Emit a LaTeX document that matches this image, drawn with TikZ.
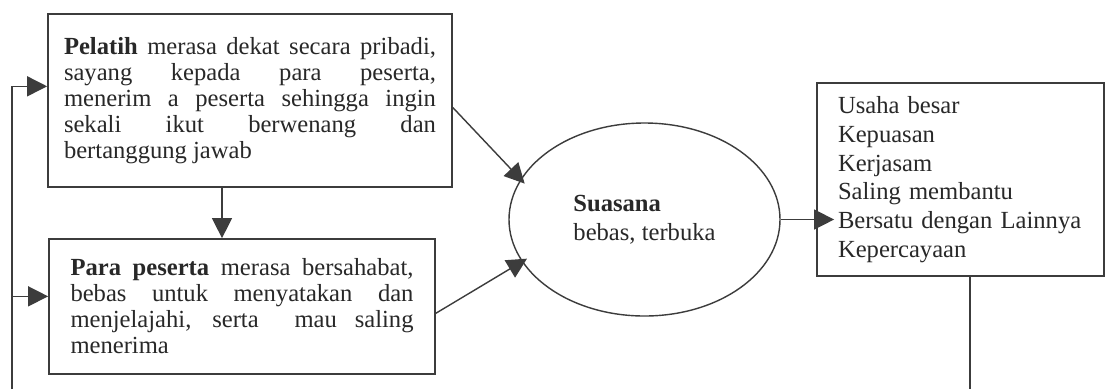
\documentclass[tikz,border=0pt]{standalone}
\usepackage{fontspec}
\setmainfont{Liberation Serif}
\usepackage{xcolor}
\usetikzlibrary{arrows.meta,shapes.geometric}

\definecolor{garis}{RGB}{60,60,60}
\definecolor{teks}{RGB}{40,40,40}

\begin{document}
\begin{tikzpicture}
    % Define styles
    \tikzset{
        box/.style={rectangle, draw=garis, line width=1pt, fill=white, inner ysep=0pt, text=teks, font=\fontsize{14}{14.8}\selectfont},
        oval/.style={ellipse, draw=garis, line width=0.8pt, inner sep=0pt, text=teks, font=\fontsize{14}{16.5}\selectfont},
        arrow/.style={-{Triangle[length=0.4cm,width=0.4cm]}, draw=garis, line width=0.8pt},
        line/.style={draw=garis, line width=0.8pt}
    }

    % Canvas
    \fill[white] (0,0) rectangle (22.12,-7.78);
    \useasboundingbox (0,0) rectangle (22.12,-7.78);

    % Nodes
    \node[box, text width=7.44cm, inner xsep=0.32cm, minimum height=3.46cm, align=justify] (pelatih_box) at (5.0,-2.01)
        {\textbf{Pelatih} merasa dekat secara pribadi,\linebreak sayang kepada para peserta,\linebreak menerim a peserta sehingga ingin\linebreak sekali ikut berwenang dan\linebreak bertanggung jawab};
    \node[box, text width=6.86cm, inner xsep=0.43cm, minimum height=2.70cm, align=justify] (peserta_box) at (4.84,-6.13)
        {\textbf{Para peserta} merasa bersahabat,\linebreak bebas untuk menyatakan dan\linebreak menjelajahi, serta \ mau saling\linebreak menerima};
    \node[oval, minimum width=5.42cm, minimum height=3.86cm, align=left] (suasana_node) at (12.89,-4.39)
        {\textbf{Suasana}\\bebas, terbuka};
    \node[box, text width=4.9cm, inner xsep=0.42cm, minimum height=3.86cm, align=left, font=\fontsize{14}{16.3}\selectfont] (hasil_box) at (19.21,-3.59)
        {Usaha besar\\Kepuasan\\Kerjasam\\Saling membantu\\Bersatu dengan Lainnya\\Kepercayaan};
    \coordinate (kiri_bawah) at (0.24,-7.78);
    \coordinate (kanan_bawah) at (19.40,-7.78);

    % Arrows
    \draw[arrow] ([xshift=-0.56cm]pelatih_box.south) -- ([xshift=-0.56cm]pelatih_box.south |- peserta_box.north);
    \draw[arrow, shorten >=-0.12cm] (pelatih_box.-2.7) -- (suasana_node.162);
    \draw[arrow, shorten >=-0.12cm] (peserta_box.-2.5) -- (suasana_node.199);
    \draw[arrow, shorten >=-0.36cm] (suasana_node.east) -- (suasana_node.east -| hasil_box.west);
    \draw[arrow] (kiri_bawah) |- (pelatih_box.176);
    \draw[arrow] (kiri_bawah |- peserta_box.177) -- (peserta_box.177);
    \draw[line] (hasil_box.south -| kanan_bawah) -- (kanan_bawah);
\end{tikzpicture}
\end{document}
